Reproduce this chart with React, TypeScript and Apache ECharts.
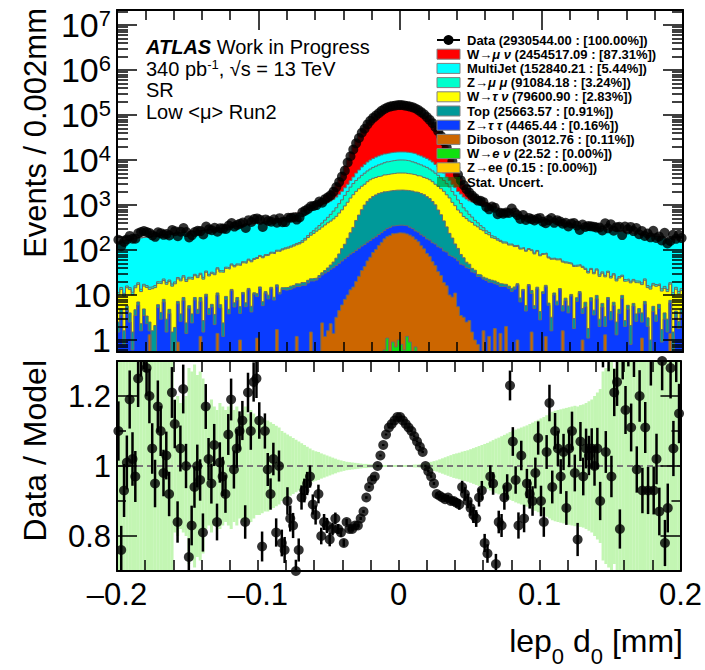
import React, { useEffect, useRef } from "react";
import * as echarts from "echarts";

const FONT = '"Liberation Sans", Arial, Helvetica, sans-serif';

// ---------- binning ----------
const X_MIN = -0.2;
const X_MAX = 0.2;
const BIN_WIDTH = 0.002;
const N_BINS = 200;

// ---------- axis ranges / tick labels ----------
const Y_LOG_MIN = -0.267; // log10(events)
const Y_LOG_MAX = 7.333;
const yDecadeTicks = [0, 1, 2, 3, 4, 5, 6, 7];
const R_MIN = 0.7;
const R_MAX = 1.3;
const ratioMajorTicks = [0.8, 1, 1.2];
const ratioMinorTicks = [0.9, 1.1];

// ---------- legend ----------
const legendLabels = [
  "Data (2930544.00 : [100.00%])",
  "W→{g|μ ν} (2454517.09 : [87.31%])",
  "MultiJet (152840.21 : [5.44%])",
  "Z→{g|μ μ} (91084.18 : [3.24%])",
  "W→{g|τ ν} (79600.90 : [2.83%])",
  "Top (25663.57 : [0.91%])",
  "Z→{g|τ τ} (4465.44 : [0.16%])",
  "Diboson (3012.76 : [0.11%])",
  "W→{g|e ν} (22.52 : [0.00%])",
  "Z→ee (0.15 : [0.00%])",
  "Stat. Uncert.",
];
const legendColors = [null, "#ff0000", "#00ffff", "#00ffcc", "#ffff00", "#009999", "#0a3cff", "#cc6600", "#10e010", "#ffcc00", "rgba(0,120,0,0.5)"];

// ---------- per-bin event counts (left half: x=-0.2..0, right half: x=0..0.2) ----------
const wmunuLeft = [2,2,2,2,2,2,2,2,2,2, 2,2,2,2,2,2,2,2,2,3, 3,3,3,3,3,3,3,3,3,3, 3,3,4,4,4,4,4,4,4,5, 5,5,5,5,6,6,6,7,7,8,
  9,9,10,10,11,12,13,14,15,16, 18,20,22,25,30,35,45,60,130,200, 250,340,410,540,660,850,1070,1440,2200,3260,
  5000,7600,11300,16700,23100,31200,40300,48900,58800,68800, 79000,88400,97200,106900,114800,120400,123800,127100,129500,130500];
const wmunuRight = [130500,129500,127100,123800,120400,114800,106900,97200,88400,79000, 68800,58800,48900,40300,31200,23100,16700,11300,7600,5000,
  3260,2200,1440,1070,850,660,540,410,340,250, 200,130,60,45,35,30,25,22,20,18, 16,15,14,13,12,11,10,10,9,9,
  8,7,7,6,6,6,5,5,5,5, 5,4,4,4,4,4,4,4,3,3, 3,3,3,3,3,3,3,3,3,3, 3,2,2,2,2,2,2,2,2,2, 2,2,2,2,2,2,2,2,2,2];

const multijetLeft = [140,143,149,152,156,161,165,168,172,175,178,181,184,188,190,194,197,200,205,209,211,213,218,221,225,229,231,235,238,
  241,245,247,251,253,258,260,264,270,272,274,279,284,290,296,300,307,311,316,322,
  326,330,341,346,354,360,372,385,397,412,420,447,470,490,512,520,562,
  578,590,596,600,598,602,600,604,598,606,613,630,662,712,778,880,1000,
  1200,1600,2000,2450,2900,3300,3700,3970,4300,4530,4800,4930,5000,5080,5100,5100,5100];
const multijetRight = [5080,5120,5090,5100,4980,4950,4780,4550,4280,3990,3680,3320,2880,2470,1980,1620,1190,
  1010,870,790,700,670,640,620,620,630,650,660,670,680,690,690,685,675,
  650,610,595,575,550,525,495,480,468,452,438,424,418,408,398,390,380,
  375,368,362,355,348,342,335,328,320,314,310,305,300,296,291,287,282,279,274,270,
  265,260,254,249,244,240,236,231,226,221,217,213,209,204,200,196,191,188,184,180,176,172,168,164,160,156,152,149,144];

const zmumuLeft = [1.4,1.4,1.4,1.4,1.4,1.4,1.5,1.5,1.5,1.5,1.5,1.6,1.6,1.6,1.6,1.7,1.7,1.7,1.7,1.8,1.8,1.8,1.9,1.9,1.9,2,2,2,2.1,2.1,2.2,2.2,2.3,2.3,2.4,2.4,2.5,2.5,2.6,2.6,2.7,2.8,2.8,2.9,3,3,3.1,3.2,3.3,
  3.5,3.6,3.8,4,4.3,4.5,4.8,5,5.3,5.5,
  6,6.5,7,8,9,10,13,16,20,28,35,45,60,75,100,130,
  180,240,310,410,520,680,850,1070,1300,1500,1700,1950,2200,2420,2650,2930,3200,3470,3730,4030,4320,4520,4700,4800,4870];
const zmumuRight = [4870,4800,4700,4520,4320,4030,3730,3470,3200,2930,2650,2420,2200,1950,1700,1500,1300,1070,850,680,520,410,310,240,180,
  130,100,75,60,45,35,28,20,16,13,10,9,8,7,6.5,6,
  5.5,5.3,5,4.8,4.5,4.3,4,3.8,3.6,3.5,
  3.3,3.2,3.1,3,3,2.9,2.8,2.8,2.7,2.6,2.6,2.5,2.5,2.4,2.4,2.3,2.3,2.2,2.2,2.1,2.1,2,2,2,1.9,1.9,1.9,1.8,1.8,1.8,1.7,1.7,1.7,1.7,1.6,1.6,1.6,1.6,1.5,1.5,1.5,1.5,1.5,1.4,1.4,1.4,1.4,1.4,1.4];

const wtaunuLeft = [7.5,8.4,7.9,8.8,9.2,8.6,9.8,10.2,9.6,10.9,11.3,10.8,12.2,12.5,12,13.6,13,14.4,15,14.2,15.8,15.5,16.8,16.2,17.5,17,18.4,18,19.5,
  19.5,19.8,21.5,21.5,23.6,24.5,26.8,26.2,29.5,29.6,32.8,33,35.5,37.4,40,40.5,44,45.5,49,50.5,
  54,57,60,63,67,70,74,77,82,86,91,95,100,106,113,119,129,147,
  168,190,210,238,262,292,325,362,392,437,493,580,672,818,968,1185,1375,1555,1695,1825,1895,2085,2265,2365,2410,2505,2585,2700,2765,2845,2895,2975,2995];
const wtaunuRight = [2980,2990,2880,2860,2750,2700,2570,2520,2400,2380,2250,2100,1880,1840,1690,1570,1360,1200,960,830,665,590,488,445,390,370,320,298,260,243,208,195,166,
  160,146,136,125,124,113,115,104,104,96,95,88,86,84,76,79,70,68,
  66,60,59,52,53,47,48,43,44,38,40,35,33,36,30,29,28,25,26,23,
  24,22,23,19.5,21,18,19,16,17.5,15,16.5,14,15,13.5,13,14,11.5,12.5,11,12,10,10.5,10,9,9.8,8.4,9,8,7.6];

const topLeft = [1,1.3,0.8,1.1,1.5,0.9,1.2,1,0.7,1.4,1.1,0.9,1.3,1.6,0.8,1.2,1,1.4,0.9,1.1,1.5,0.8,1.2,1.3,1,0.7,1.4,1.1,0.9,1.6,
  1.2,1,1.3,0.8,1.5,1.1,0.9,1.2,1.4,1,0.8,1.3,1.1,1.6,0.9,1.2,1,1.4,0.8,1.5,1.1,1.3,0.9,1.7,1,1.2,1.5,0.9,1.3,
  1.8,1.6,2.1,1.9,2.3,2,2.5,2.2,2.7,2.4,2.9,2.3,2.6,
  3.2,4.2,6.8,9,13.5,20.5,31,50,70,110,160,230,355,488,662,862,1055,1212,1365,1478,1585,1630,1685,1712,1745,1755,1785,1780];
const topRight = [1790,1775,1765,1735,1720,1675,1640,1575,1490,1355,1220,1048,870,655,495,348,236,158,112,70,51,31,21,13,9.5,6.5,4.5,2.8,
  2.7,2.2,2.6,3,2.3,2.7,2.1,2.4,1.8,2.2,1.7,2,1.6,
  1.2,1.6,0.9,1.4,1.1,1.8,0.8,1.3,1.5,1,1.2,0.7,1.6,1.1,1.3,0.9,1.4,1,1.7,0.8,1.2,1.5,0.9,1.1,1.4,0.7,1.3,1,1.6,0.9,
  1.1,1.3,0.8,1.5,1,1.2,0.9,1.4,0.7,1.1,1.3,0.8,1.2,1,1.5,0.9,1.1,0.7,1.3,1,1.2,0.8,1.1,1.4,0.9,1,1.2,0.8,1.1];

const ztautauLeft = [1.5,3.6,0.8,4.6,2.5,0.6,3.5,6,1.6,3.5,2.3,0.3,0.3,0.5,5.3,2.9,7,1.5,3.9,0.4,0.4,5.5,2.6,7.5,1.4,5.1,2.4,7.7,3.9,6,
  1.5,9.4,3.7,5.4,2.2,8.6,5.2,1.2,7.9,3.8,12.5,5.4,7.7,2.9,10.5,5.5,13,4.2,10.4,8.1,14,5.8,11,8.2,13.8,7.7,13.6,10.5,13.2,
  12.8,13.2,13.6,14.4,14.2,15.5,16.4,16.5,18.5,19,20.5,21.5,24.5,25.5,29.5,31.5,
  35,39,42,46,51,56,62,68,73,78,83,87,90,92,93,94,93,95,95,95,100,108,112,114,115];
const ztautauRight = [117,112,114,106,102,93,97,94,95,92,94,90,91,85,84,76,74,66,63,55,52,45,43,38,36,
  31,30,25,25,21,21,18,19,16,17,14,15.5,13,14,12,13.5,
  15.6,7,12.4,4.4,16,9.3,5,13.6,2.8,10.8,14,5.9,1.6,10,6,13,2.8,7.5,4,9.5,1.8,7.2,11,2.9,5.5,1.1,7.4,3.6,8.2,2,
  5.4,0.7,8,2.8,5.9,1.3,3.9,8.4,2,4.8,0.8,5.7,2.6,4,1.4,6.3,2,0.3,4.3,2.6,5,0.9,2.9,1.5,5.3,0.5,3.2,1.8,3.8];

const dibosonLeft = [0,0,0,0,0,0,0,0,0,0, 0,1.3,0,0,0,0,0,0,0,0, 0,0.9,0,0,0,0,0,0,0,1.2, 0,0,0,0,0,1.4,0,0,0,0,
  0,0,0,1,0,0,0,0,0,1.1, 0,0,0,0,0,0,1.7,0,0,0, 0,0,0,1.2,0,0,0,0,1.5,0, 0,0,
  2.4,1.2,1.6,2.3,1.4,3.2,4.5,6,8,10,13,15,20,26,35,43,57,69,88,103,126,148,176,198,210,229,235,240];
const dibosonRight = [238,236,226,213,196,172,152,124,106,84,72,55,45,33,27,19,16,10,9,11,5.5,3.5,3.2,2.5,2.7,1.5,1,0.8,
  0,1.6,0,1.2,0,1.8,0,1.4,0,2, 0,0,0,1,0,0,0,0,1.5,0, 0,0,0,1.2,0,0,0,0,0,1.6, 0,0,0,0,0,0,1,0,0,0,
  0,0,0,0,1.3,0,0,0,0,0, 0,0,0,0,0,0,0,1.1,0,0, 0,0,0,0,0,0,0,1.4,0,0, 0,0];

const wenuLeft = [0,0,0,0,0,0,0,0,0,0, 0,0,0,0,0,0,0,0,0,0, 0,0,0,0,0,0,0,0,0,0, 0,0,0,0,0,0,0,0,0,0, 0,0,0,0,0,0,0,0,0,0,
  0,0,0,0,0,0,0,0,0,0, 0,0,0,0,0,0,0,0,0,0, 0,0,0,0,0,0,0,0,0,0, 0,0,0,0,0,0,0,0,0,0, 0,0,0,
  0,0.6,1.1,0.5,0.9,0.7,1.0];
const wenuRight = [0.8,0.6,1.2,0.9,0.5,0.7,0.4,
  0,0,0, 0,0,0,0,0,0,0,0,0,0, 0,0,0,0,0,0,0,0,0,0, 0,0,0,0,0,0,0,0,0,0, 0,0,0,0,0,0,0,0,0,0, 0,0,0,0,0,0,0,0,0,0,
  0,0,0,0,0,0,0,0,0,0, 0,0,0,0,0,0,0,0,0,0, 0,0,0,0,0,0,0,0,0,0, 0,0,0,0,0,0,0,0,0,0];

// ---------- Data / Model per bin ----------
const dataOverModel = [
  1.10,0.76,0.93,1.01,1.19,1.02,0.97,1.25,1.34,1.36, 1.28,1.20,1.05,0.95,1.17,1.10,0.98,1.03,0.92,1.21,
  1.12,0.84,1.05,1.22,1.00,0.74,0.83,0.94,1.00,0.96, 0.81,1.17,1.02,0.95,1.06,0.84,1.01,0.97,0.92,1.09,
  1.19,0.99,1.05,1.10,1.13,0.84,1.21,1.10,1.24,1.25, 1.13,0.77,1.10,0.99,0.92,1.02,0.81,1.00,0.78,0.76,
  0.90,0.85,0.83,0.70,0.76,0.91,0.93,0.95,0.97,0.89, 0.86,0.92,0.80,0.84,0.83,0.79,0.82,0.85,0.82,0.81,
  0.78,0.84,0.82,0.82,0.83,0.83,0.85,0.87,0.91,0.94, 0.96,0.97,1.00,1.03,1.06,1.09,1.11,1.12,1.13,1.14,
  1.14,1.13,1.12,1.11,1.10,1.085,1.07,1.055,1.04,1.00, 0.985,0.97,0.95,0.92,0.915,0.91,0.905,0.91,0.90,0.90,
  0.895,0.89,0.94,0.92,0.90,0.88,0.86,0.85,0.91,0.93, 0.78,0.75,0.97,0.95,0.72,0.84,0.83,0.91,0.94,1.23,
  1.07,0.96,0.83,1.03,0.85,0.95,0.92,0.90,0.98,1.08, 0.90,0.84,1.04,1.18,0.94,1.10,1.05,0.97,1.04,0.88,
  1.05,1.10,0.98,0.79,1.07,0.97,1.05,1.03,1.05,1.00, 1.05,0.90,1.35,1.04,1.34,0.97,1.21,1.24,0.82,1.32,
  1.16,1.36,1.11,1.33,0.99,1.20,0.93,1.11,0.93,1.31, 0.93,1.02,0.87,1.30,0.78,0.88,1.28,1.05,1.33,1.15,
];

// ---------- relative MC statistical uncertainty per bin ----------
const mcStatRelErr = [
  0.45,0.5,0.42,0.48,0.4,0.46,0.38,0.44,0.41,0.36,0.43,0.39,0.35,0.4,0.37,0.34,0.38,0.33,0.36,0.31,
  0.19,0.2,0.18,0.19,0.2, 0.28,0.27,0.29,0.26,0.27,0.25,
  0.18,0.17,0.19,0.17,0.16,0.18,0.17,0.16,0.17,0.18,0.16,0.17,0.15,0.16,0.17,0.15,0.16,0.15,0.14,
  0.14,0.135,0.13,0.13,0.125,0.12,0.115,0.11,
  0.1,0.095,0.09,0.085,0.08,0.075,0.07,0.065,0.06,0.055,0.05,
  0.045,0.042,0.04,0.036,0.033,0.03,0.027,0.024,0.021,0.018,0.016,0.014,
  0.012,0.011,0.01,0.009,0.008,0.007,0.006,0.006,0.005,0.005,0.004,
  0.004,0.004,0.003,0.003,0.003,0.003,0.003,0.003,
  0.003,0.003,0.003,0.003,0.003,0.004,0.004,0.005,0.006,
  0.008,0.01,0.012,0.014,0.016,0.019,0.022,0.025,0.028,0.031,0.034,
  0.036,0.038,0.041,0.043,0.045,0.048,0.051,0.054,0.057,0.06,
  0.063,0.066,0.07,0.074,0.078,0.081,0.085,0.089,0.093,0.097,
  0.1,0.104,0.107,0.11,0.113,0.116,0.12,0.124,0.128,0.132,
  0.136,0.14,0.145,0.15,0.155,0.158,0.16,0.162,0.164,0.166,
  0.168,0.17,0.172,0.17,0.174,0.176,0.18,0.185,0.19,0.2,
  0.21,0.22,0.27,0.28,0.29,0.3,0.28,0.31,0.3,
  0.38,0.42,0.36,0.45,0.4,0.48,0.37,0.44,0.5,0.41,0.46,0.39,0.43,0.47,0.4,0.45,0.42,0.5,0.44,0.48,0.46,
];

const wmunu = wmunuLeft.concat(wmunuRight);
const multijet = multijetLeft.concat(multijetRight);
const zmumu = zmumuLeft.concat(zmumuRight);
const wtaunu = wtaunuLeft.concat(wtaunuRight);
const topq = topLeft.concat(topRight);
const ztautau = ztautauLeft.concat(ztautauRight);
const diboson = dibosonLeft.concat(dibosonRight);
const wenu = wenuLeft.concat(wenuRight);

const OUTLINE = "#6a6a6a";
const BAND = "#c3f6b3";

function buildOption() {
  const edges: number[] = [];
  for (let i = 0; i <= N_BINS; i++) edges.push(+(X_MIN + i * BIN_WIDTH).toFixed(4));
  const centers = edges.slice(0, N_BINS).map((e) => +(e + BIN_WIDTH / 2).toFixed(4));

  const stack = [
    { counts: wenu, color: legendColors[8] },
    { counts: diboson, color: legendColors[7] },
    { counts: ztautau, color: legendColors[6] },
    { counts: topq, color: legendColors[5] },
    { counts: wtaunu, color: legendColors[4] },
    { counts: zmumu, color: legendColors[3] },
    { counts: multijet, color: legendColors[2] },
    { counts: wmunu, color: legendColors[1] },
  ];
  let running = new Array(N_BINS).fill(0);
  const cums = stack.map((s) => {
    running = running.map((v, i) => v + (s.counts[i] || 0));
    return { color: s.color, cum: running };
  });
  const model = running;
  const lg = (v: number) => (v > 0 ? Math.log10(v) : -3);

  const stackSeries = cums
    .slice()
    .reverse()
    .map((c) => {
      const pts = c.cum.map((v: number, i: number) => [edges[i], lg(v)]);
      pts.push([edges[N_BINS], lg(c.cum[N_BINS - 1])]);
      return {
        type: "line",
        xAxisIndex: 0,
        yAxisIndex: 0,
        step: "end",
        symbol: "none",
        silent: true,
        clip: true,
        data: pts,
        lineStyle: { color: OUTLINE, width: 1 },
        areaStyle: { color: c.color, opacity: 1, origin: "start" },
        z: 2,
      };
    });

  const dataCounts = model.map((m: number, i: number) => dataOverModel[i] * m);

  const dataSeries = {
    type: "scatter",
    xAxisIndex: 0,
    yAxisIndex: 0,
    symbol: "circle",
    symbolSize: 10,
    silent: true,
    clip: false,
    itemStyle: { color: "#000" },
    data: dataCounts.map((d: number, i: number) => [centers[i], Math.log10(d)]),
    z: 20,
  };

  const bandSeries = {
    type: "custom",
    xAxisIndex: 2,
    yAxisIndex: 4,
    silent: true,
    data: mcStatRelErr.map((h, i) => [edges[i], edges[i + 1], 1 - h, 1 + h]),
    renderItem: (params: any, api: any) => {
      const p0 = api.coord([api.value(0), api.value(3)]);
      const p1 = api.coord([api.value(1), api.value(2)]);
      const cs = params.coordSys;
      const rect = echarts.graphic.clipRectByRect(
        { x: p0[0], y: p0[1], width: p1[0] - p0[0] + 0.2, height: p1[1] - p0[1] },
        { x: cs.x, y: cs.y, width: cs.width, height: cs.height }
      );
      if (!rect) return { type: "group", children: [] };
      return { type: "rect", shape: rect, style: { fill: BAND } };
    },
    z: 2,
  };

  const unityLine = {
    type: "line",
    xAxisIndex: 2,
    yAxisIndex: 4,
    symbol: "none",
    silent: true,
    data: [[X_MIN, 1], [X_MAX, 1]],
    lineStyle: { color: "#777", width: 2, type: [6, 4] },
    z: 3,
  };

  const ratioErr = dataCounts.map((d: number, i: number) => Math.sqrt(d) / model[i]);
  const errSeries = {
    type: "custom",
    xAxisIndex: 2,
    yAxisIndex: 4,
    silent: true,
    data: dataOverModel.map((r, i) => [centers[i], r - ratioErr[i], r + ratioErr[i]]),
    renderItem: (params: any, api: any) => {
      let lo = api.value(1);
      let hi = api.value(2);
      if (hi <= R_MIN || lo >= R_MAX) return { type: "group", children: [] };
      lo = Math.max(lo, R_MIN);
      hi = Math.min(hi, R_MAX);
      const a = api.coord([api.value(0), lo]);
      const b = api.coord([api.value(0), hi]);
      return { type: "line", shape: { x1: a[0], y1: a[1], x2: b[0], y2: b[1] }, style: { stroke: "#000", lineWidth: 2.5 } };
    },
    z: 5,
  };

  const ratioPoints = {
    type: "scatter",
    xAxisIndex: 2,
    yAxisIndex: 4,
    symbolSize: 10,
    silent: true,
    clip: true,
    itemStyle: { color: "#000" },
    data: dataOverModel.map((r, i) => [centers[i], r]),
    z: 6,
  };

  // ---------- axes ----------
  const lineSt = { color: "#000", width: 2 };
  const tickSt = { color: "#000", width: 1.5 };
  const xAxis = (grid: number, pos: string, major: number, minor: number, labels: boolean) => ({
    type: "value",
    gridIndex: grid,
    position: pos,
    min: X_MIN,
    max: X_MAX,
    interval: 0.1,
    z: 10,
    axisLine: { show: true, onZero: false, lineStyle: lineSt },
    axisTick: { show: true, inside: true, length: major, lineStyle: tickSt },
    minorTick: { show: true, splitNumber: 5, length: minor, lineStyle: tickSt },
    splitLine: { show: false },
    minorSplitLine: { show: false },
    axisLabel: labels
      ? {
          show: true,
          fontSize: 31,
          fontFamily: FONT,
          color: "#000",
          margin: 8,
          showMinLabel: true,
          showMaxLabel: true,
          formatter: (v: number) => {
            const r = Math.round(v * 10) / 10;
            return r < 0 ? "\u2013" + String(-r) : String(r);
          },
        }
      : { show: false },
  });

  const logMinor: number[] = [];
  for (let n = -1; n <= 7; n++)
    for (let m = 2; m <= 9; m++) {
      const v = n + Math.log10(m);
      if (v > Y_LOG_MIN && v < Y_LOG_MAX) logMinor.push(v);
    }

  const yAxis = (grid: number, pos: string, min: number, max: number, ticks: number[], len: number, line: boolean, label: any) => ({
    type: "value",
    gridIndex: grid,
    position: pos,
    min,
    max,
    z: 10,
    axisLine: { show: line, onZero: false, lineStyle: lineSt },
    axisTick: { show: true, inside: true, length: len, lineStyle: tickSt, customValues: ticks },
    splitLine: { show: false },
    axisLabel: label || { show: false },
  });

  const topLabel = {
    show: true,
    customValues: yDecadeTicks,
    fontSize: 34,
    fontFamily: FONT,
    color: "#000",
    margin: 6,
    formatter: (v: number) => {
      const n = Math.round(v);
      if (n === 0) return "1";
      if (n === 1) return "10";
      return "{b|10}{s|" + n + "}";
    },
    rich: {
      b: { fontSize: 34, fontFamily: FONT, lineHeight: 34, color: "#000", verticalAlign: "middle" },
      s: { fontSize: 22, fontFamily: FONT, lineHeight: 22, color: "#000", verticalAlign: "top" },
    },
  };
  const ratioLabel = {
    show: true,
    customValues: ratioMajorTicks,
    fontSize: 31,
    fontFamily: FONT,
    color: "#000",
    margin: 6,
    formatter: (v: number) => (Math.abs(v - 1) < 1e-6 ? "1" : String(Math.round(v * 10) / 10)),
  };

  // ---------- graphics: texts and legend ----------
  const rowY = (r: number) => 40 + 14.2 * r;
  const legendEls: any[] = [];
  legendLabels.forEach((label, r) => {
    const y = rowY(r);
    if (r === 0) {
      legendEls.push({ type: "line", shape: { x1: 437, y1: y, x2: 460, y2: y }, style: { stroke: "#000", lineWidth: 2 }, z: 100 });
      legendEls.push({ type: "circle", shape: { cx: 448.5, cy: y, r: 5 }, style: { fill: "#000" }, z: 100 });
    } else {
      legendEls.push({
        type: "rect",
        shape: { x: 437, y: y - 5, width: 23, height: 10 },
        style: { fill: legendColors[r], stroke: r === 10 ? "none" : "#808080", lineWidth: 1 },
        z: 100,
      });
    }
    legendEls.push({
      type: "text",
      x: 467,
      y,
      z: 100,
      style: {
        text: label,
        fontSize: 13,
        fontWeight: "bold",
        fontFamily: FONT,
        fill: "#000",
        align: "left",
        verticalAlign: "middle",
        rich: { g: { fontSize: 13, fontWeight: "bold", fontStyle: "italic", fontFamily: FONT, fill: "#000" } },
      },
    });
  });

  const txt = (x: number, y: number, text: string, extra: any = {}) => ({
    type: "text",
    x,
    y,
    z: 100,
    style: { text, fontSize: 20, fontFamily: FONT, fill: "#000", align: "left", verticalAlign: "middle", ...extra },
  });

  const graphics = [
    txt(146, 47, "{a|ATLAS}{b| Work in Progress}", {
      rich: {
        a: { fontSize: 20, fontFamily: FONT, fontWeight: "bold", fontStyle: "italic", fill: "#000" },
        b: { fontSize: 20, fontFamily: FONT, fill: "#000" },
      },
    }),
    txt(146, 68.5, "{n|340 pb}{s|-1}{n|, √s = 13 TeV}", {
      rich: {
        n: { fontSize: 20, fontFamily: FONT, lineHeight: 22, fill: "#000" },
        s: { fontSize: 13, fontFamily: FONT, lineHeight: 10, verticalAlign: "top", fill: "#000" },
      },
    }),
    txt(146, 90, "SR"),
    txt(146, 111.5, "Low <μ> Run2"),
    {
      type: "text",
      x: 35,
      y: 8,
      rotation: Math.PI / 2,
      z: 100,
      style: { text: "Events / 0.002mm", fontSize: 31, fontFamily: FONT, fill: "#000", align: "right", verticalAlign: "middle" },
    },
    {
      type: "text",
      x: 35,
      y: 360,
      rotation: Math.PI / 2,
      z: 100,
      style: { text: "Data / Model", fontSize: 32, fontFamily: FONT, fill: "#000", align: "right", verticalAlign: "middle" },
    },
    {
      type: "text",
      x: 683,
      y: 646,
      z: 100,
      style: {
        text: "{h| }{a|lep}{s|0}{a| d}{s|0}{a| [mm]}",
        fontSize: 32,
        fontFamily: FONT,
        fill: "#000",
        align: "right",
        verticalAlign: "middle",
        rich: {
          h: { fontSize: 1, lineHeight: 42, fill: "#000" },
          a: { fontSize: 32, fontFamily: FONT, lineHeight: 32, verticalAlign: "top", fill: "#000" },
          s: { fontSize: 22, fontFamily: FONT, lineHeight: 22, verticalAlign: "bottom", fill: "#000" },
        },
      },
    },
    ...legendEls,
  ];

  return {
    animation: false,
    backgroundColor: "#fff",
    grid: [
      { left: 117, top: 10, width: 566, height: 342, containLabel: false },
      { left: 117, top: 361, width: 566, height: 210, containLabel: false },
    ],
    xAxis: [
      xAxis(0, "bottom", 20, 10, false),
      xAxis(0, "top", 20, 10, false),
      xAxis(1, "bottom", 11, 11, true),
      xAxis(1, "top", 11, 11, false),
    ],
    yAxis: [
      yAxis(0, "left", Y_LOG_MIN, Y_LOG_MAX, yDecadeTicks, 20, true, topLabel),
      yAxis(0, "left", Y_LOG_MIN, Y_LOG_MAX, logMinor, 11, false, null),
      yAxis(0, "right", Y_LOG_MIN, Y_LOG_MAX, yDecadeTicks, 20, true, null),
      yAxis(0, "right", Y_LOG_MIN, Y_LOG_MAX, logMinor, 11, false, null),
      yAxis(1, "left", R_MIN, R_MAX, ratioMajorTicks, 20, true, ratioLabel),
      yAxis(1, "left", R_MIN, R_MAX, ratioMinorTicks, 9, false, null),
      yAxis(1, "right", R_MIN, R_MAX, ratioMajorTicks, 20, true, null),
      yAxis(1, "right", R_MIN, R_MAX, ratioMinorTicks, 9, false, null),
    ],
    series: [...stackSeries, dataSeries, bandSeries, unityLine, errSeries, ratioPoints],
    graphic: { elements: graphics },
  };
}

export default function App() {
  const ref = useRef<HTMLDivElement>(null);
  useEffect(() => {
    if (!ref.current) return;
    const chart = echarts.init(ref.current, null, { renderer: "svg" });
    chart.setOption(buildOption() as any);
    return () => chart.dispose();
  }, []);
  return <div ref={ref} style={{ position: "absolute", left: 0, top: 0, width: 705, height: 670, background: "#fff" }} />;
}
